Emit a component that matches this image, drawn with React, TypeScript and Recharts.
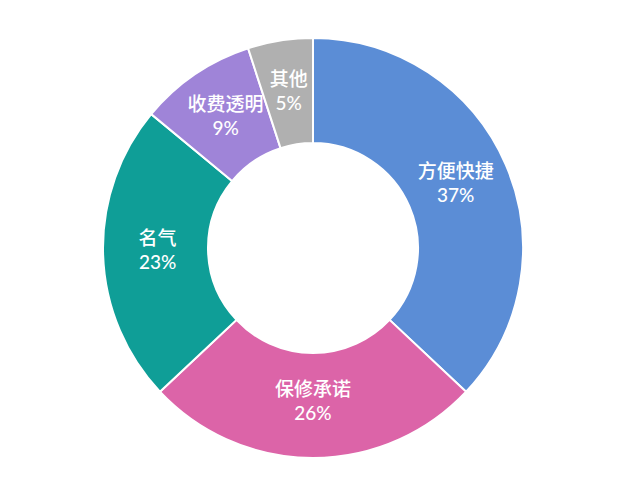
import { PieChart, Pie, Cell } from "recharts";

const categories = ["方便快捷", "保修承诺", "名气", "收费透明", "其他"];
const shares = [37, 26, 23, 9, 5];
const colors = ["#5b8dd6", "#dc64a8", "#0f9e97", "#9f84d8", "#b0b0b0"];

const data = categories.map((name, i) => ({ name, value: shares[i] }));

const RADIAN = Math.PI / 180;

const renderLabel = (props: any) => {
  const { cx, cy, midAngle, innerRadius, outerRadius, name, value } = props;
  const r = (innerRadius + outerRadius) / 2 - 2;
  const x = cx + r * Math.cos(-midAngle * RADIAN);
  const y = cy + r * Math.sin(-midAngle * RADIAN);
  return (
    <text
      x={x}
      y={y}
      fill="#ffffff"
      textAnchor="middle"
      fontSize={19}
      fontWeight={500}
      fontFamily="Lato, 'Noto Sans CJK SC', sans-serif"
    >
      <tspan x={x} dy={-8}>{name}</tspan>
      <tspan x={x} dy={24}>{value}%</tspan>
    </text>
  );
};

export default function App() {
  return (
    <div style={{ position: "absolute", left: 0, top: 0, background: "#fff" }}>
      <PieChart width={627} height={500} margin={{ top: 0, right: 0, bottom: 0, left: 0 }}>
        <Pie
          data={data}
          dataKey="value"
          cx={313}
          cy={248}
          innerRadius={105}
          outerRadius={210}
          startAngle={90}
          endAngle={-270}
          stroke="#ffffff"
          strokeWidth={2}
          label={renderLabel}
          labelLine={false}
          isAnimationActive={false}
        >
          {data.map((entry, index) => (
            <Cell key={`cell-${index}`} fill={colors[index]} />
          ))}
        </Pie>
      </PieChart>
    </div>
  );
}
